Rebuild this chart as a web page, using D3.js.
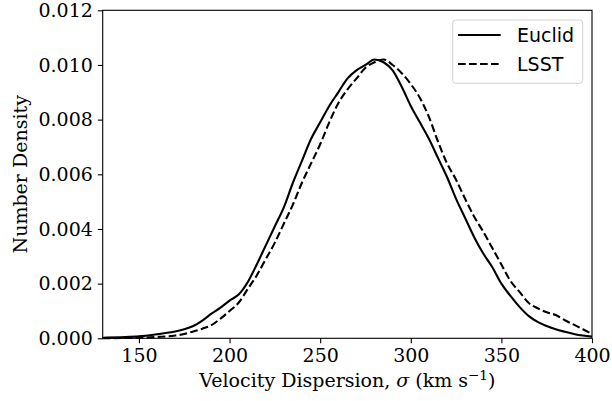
<!DOCTYPE html>
<html><head><meta charset="utf-8">
<script src="https://cdn.jsdelivr.net/npm/d3@7"></script>
<style>
html,body{margin:0;padding:0;background:#fff;}
svg{display:block;}
</style></head>
<body>
<svg id="chart" width="612" height="401"></svg>
<script>
const velocity = [130,140,150,160,170,175,180,185,190,195,200,205,210,215,220,225,230,235,240,245,250,255,260,265,270,275,280,285,290,295,300,305,310,315,320,325,330,335,340,345,350,355,360,365,370,375,380,385,390,395,400];
const euclid = [0.00002,0.00004,0.00007,0.00015,0.00025,0.00033,0.00045,0.00065,0.0009,0.00112,0.00138,0.0016,0.00205,0.0027,0.0034,0.0041,0.0048,0.0057,0.0065,0.0073,0.0079,0.0085,0.0090,0.0095,0.0098,0.0100,0.0102,0.0101,0.0098,0.0092,0.0085,0.0079,0.0073,0.0066,0.0059,0.0051,0.0044,0.0037,0.0031,0.0026,0.0020,0.00155,0.00115,0.00082,0.0006,0.00045,0.00033,0.00024,0.00016,0.0001,0.00006];
const lsst = [0.0,0.00001,0.00002,0.00005,0.0001,0.00016,0.00025,0.00035,0.00048,0.00072,0.00100,0.0013,0.0018,0.0023,0.0029,0.0035,0.0042,0.0049,0.0057,0.0064,0.0071,0.0079,0.0086,0.0091,0.0095,0.0099,0.0101,0.0102,0.0100,0.0097,0.0093,0.0088,0.0081,0.0072,0.0064,0.0058,0.0051,0.00445,0.0039,0.0033,0.0027,0.0021,0.0017,0.0013,0.0011,0.00095,0.00085,0.00066,0.0005,0.00033,0.00016];
const seriesNames = ["Euclid","LSST"];
const xTicks = [150,200,250,300,350,400];
const yTicks = [0,0.002,0.004,0.006,0.008,0.010,0.012];

const svg = d3.select("#chart");
const L = 102.7, R = 592, T = 10.3, B = 338.3;
const x = d3.scaleLinear().domain([130,400]).range([L,R]);
const y = d3.scaleLinear().domain([0,0.012]).range([B,T]);

const serif = "DejaVu Serif";
const sans = "DejaVu Sans";

const line = d3.line().x((d,i)=>x(velocity[i])).y(d=>y(d)).curve(d3.curveMonotoneX);

const plot = svg.append("g");
plot.append("path").datum(euclid).attr("d",line)
  .attr("fill","none").attr("stroke","#000").attr("stroke-width",2.1);
plot.append("path").datum(lsst).attr("d",line)
  .attr("fill","none").attr("stroke","#000").attr("stroke-width",2.1)
  .attr("stroke-dasharray","7.7,3.3");

// axes
const xAxis = d3.axisBottom(x).tickValues(xTicks).tickSize(4.9).tickPadding(4.9).tickFormat(d3.format("d"));
const yAxis = d3.axisLeft(y).tickValues(yTicks).tickSize(4.9).tickPadding(4.9).tickFormat(d3.format(".3f"));
const gx = svg.append("g").attr("transform",`translate(0,${B})`).call(xAxis);
const gy = svg.append("g").attr("transform",`translate(${L},0)`).call(yAxis);
[gx,gy].forEach(g=>{
  g.attr("font-family",serif).attr("font-size",19);
  g.select(".domain").remove();
  g.selectAll(".tick line").attr("stroke","#000").attr("stroke-width",1.1);
  g.selectAll(".tick text").attr("fill","#000").attr("font-family",serif).attr("font-size",19);
});

// spines
svg.append("rect").attr("x",L).attr("y",T).attr("width",R-L).attr("height",B-T)
  .attr("fill","none").attr("stroke","#000").attr("stroke-width",1.1);

// axis labels
const xl = svg.append("text").attr("x",(L+R)/2).attr("y",387).attr("text-anchor","middle")
  .attr("font-family",serif).attr("font-size",19).attr("fill","#000");
xl.append("tspan").text("Velocity Dispersion, ");
xl.append("tspan").text("σ").attr("font-style","italic");
xl.append("tspan").text(" (km s");
xl.append("tspan").text("−1").attr("dy",-7).attr("font-size",13.5);
xl.append("tspan").text(")").attr("dy",7);

svg.append("text").attr("transform",`translate(26.5,${(T+B)/2}) rotate(-90)`)
  .attr("text-anchor","middle").attr("font-family",serif).attr("font-size",19)
  .attr("fill","#000").text("Number Density");

// legend
const lg = svg.append("g");
lg.append("rect").attr("x",452.7).attr("y",20).attr("width",130).attr("height",63.3)
  .attr("rx",3).attr("fill","#fff").attr("fill-opacity",0.8)
  .attr("stroke","#d0d0d0").attr("stroke-width",1);
seriesNames.forEach((name,i)=>{
  const yy = 35 + i*29;
  lg.append("line").attr("x1",458).attr("x2",500.7).attr("y1",yy).attr("y2",yy)
    .attr("stroke","#000").attr("stroke-width",2.1)
    .attr("stroke-dasharray", i===1 ? "7.7,3.3" : null);
  lg.append("text").attr("x",517).attr("y",yy+7).attr("font-family",sans).attr("font-size",19)
    .attr("fill","#000").text(name);
});
</script>
</body></html>
